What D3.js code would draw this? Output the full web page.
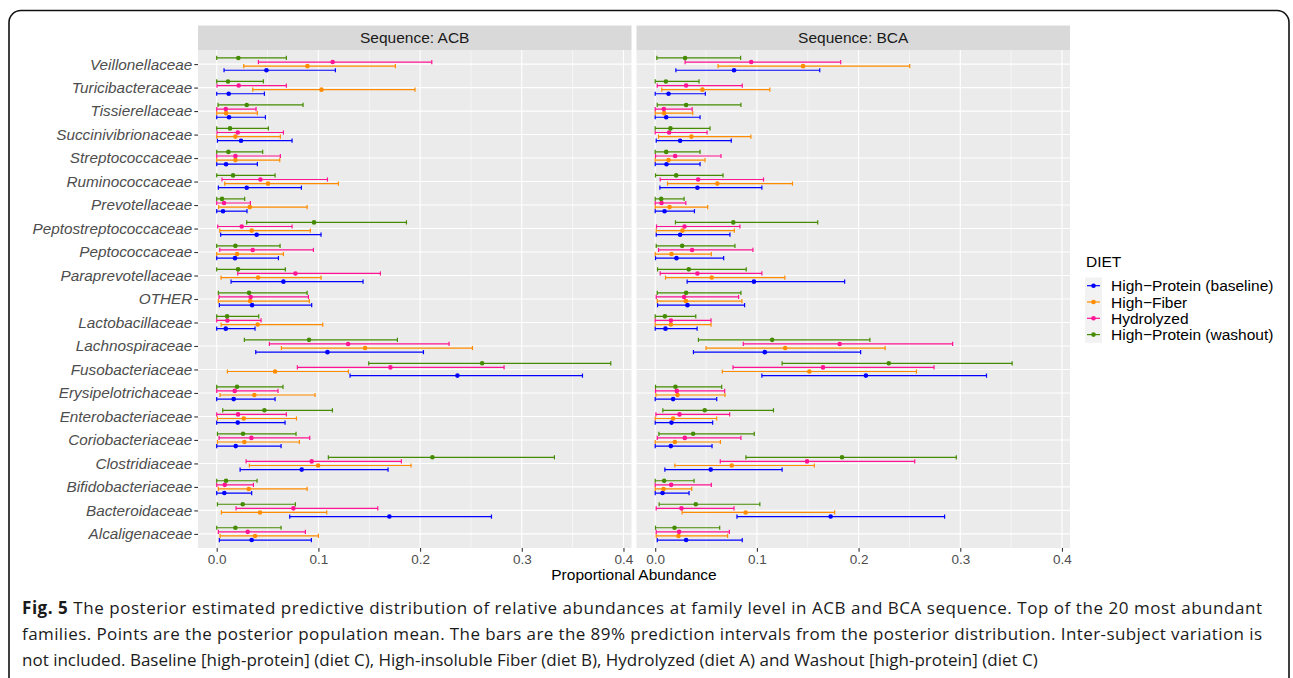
<!DOCTYPE html>
<html><head><meta charset="utf-8">
<script src="https://cdn.jsdelivr.net/npm/d3@7"></script>
<style>body{margin:0;background:#fff;} svg{display:block}</style>
</head><body><svg id="c" width="1293" height="678"></svg>
<script>
const categories = ["Veillonellaceae","Turicibacteraceae","Tissierellaceae","Succinivibrionaceae","Streptococcaceae","Ruminococcaceae","Prevotellaceae","Peptostreptococcaceae","Peptococcaceae","Paraprevotellaceae","OTHER","Lactobacillaceae","Lachnospiraceae","Fusobacteriaceae","Erysipelotrichaceae","Enterobacteriaceae","Coriobacteriaceae","Clostridiaceae","Bifidobacteriaceae","Bacteroidaceae","Alcaligenaceae"];
const seriesKeys = ["baseline","fiber","hydrolyzed","washout"];
const seriesLabels = ["High\u2212Protein (baseline)","High\u2212Fiber","Hydrolyzed","High\u2212Protein (washout)"];
const seriesColors = ["#0000FF","#FF8C00","#FF1493","#458B00"];
const panelTitles = ["Sequence: ACB","Sequence: BCA"];
const xTicks = [0,0.1,0.2,0.3,0.4];
const xTickLabels = ["0.0","0.1","0.2","0.3","0.4"];

// [lower, mean, upper] for each category, top to bottom
const acbBaseline = [[0.0072,0.0489,0.1167],[0,0.0118,0.0469],[0,0.0121,0.0479],[0.0007,0.0239,0.0741],[0,0.0092,0.0400],[0.0016,0.0295,0.0833],[0,0.0062,0.0298],[0.0039,0.0393,0.1026],[0,0.0180,0.0607],[0.0141,0.0656,0.1439],[0.0026,0.0348,0.0934],[0,0.0089,0.0377],[0.0384,0.1089,0.2033],[0.1311,0.2367,0.3597],[0,0.0167,0.0574],[0,0.0207,0.0672],[0,0.0187,0.0633],[0.0230,0.0836,0.1685],[0,0.0075,0.0344],[0.0718,0.1698,0.2702],[0.0026,0.0344,0.0931]];
const acbFiber = [[0.0266,0.0892,0.1757],[0.0354,0.1030,0.1950],[0,0.0092,0.0400],[0,0.0184,0.0626],[0,0.0184,0.0620],[0.0079,0.0505,0.1197],[0.0020,0.0325,0.0889],[0.0030,0.0344,0.0921],[0,0.0200,0.0656],[0.0043,0.0407,0.1026],[0.0016,0.0328,0.0911],[0.0043,0.0403,0.1043],[0.0636,0.1459,0.2515],[0.0105,0.0574,0.1295],[0.0033,0.0370,0.0967],[0.0007,0.0266,0.0784],[0.0007,0.0272,0.0813],[0.0321,0.0997,0.1911],[0.0016,0.0315,0.0889],[0.0046,0.0426,0.1082],[0.0033,0.0377,0.1000]];
const acbHydrolyzed = [[0.0410,0.1140,0.2115],[0.0003,0.0216,0.0685],[0,0.0089,0.0387],[0.0003,0.0207,0.0656],[0,0.0184,0.0626],[0.0052,0.0430,0.1089],[0,0.0072,0.0331],[0.0010,0.0246,0.0741],[0.0030,0.0354,0.0951],[0.0207,0.0774,0.1610],[0.0023,0.0334,0.0902],[0,0.0105,0.0436],[0.0518,0.1292,0.2285],[0.0793,0.1708,0.2826],[0,0.0177,0.0603],[0,0.0210,0.0685],[0.0023,0.0341,0.0915],[0.0289,0.0934,0.1816],[0,0.0079,0.0361],[0.0190,0.0754,0.1584],[0.0016,0.0305,0.0872]];
const acbWashout = [[0,0.0213,0.0685],[0,0.0111,0.0459],[0.0013,0.0295,0.0849],[0,0.0131,0.0508],[0,0.0115,0.0452],[0,0.0161,0.0574],[0,0.0052,0.0275],[0.0295,0.0957,0.1866],[0,0.0184,0.0623],[0,0.0210,0.0675],[0.0016,0.0318,0.0889],[0,0.0102,0.0413],[0.0272,0.0908,0.1777],[0.1495,0.2610,0.3875],[0,0.0200,0.0652],[0.0059,0.0469,0.1138],[0.0007,0.0259,0.0780],[0.1098,0.2121,0.3321],[0,0.0092,0.0397],[0.0007,0.0256,0.0774],[0,0.0184,0.0633]];
const bcaBaseline = [[0.0203,0.0775,0.1618],[0,0.0131,0.0493],[0,0.0108,0.0441],[0.0010,0.0245,0.0748],[0,0.0111,0.0441],[0.0046,0.0415,0.1049],[0,0.0092,0.0386],[0.0010,0.0245,0.0735],[0.0003,0.0209,0.0673],[0.0314,0.0971,0.1863],[0.0023,0.0317,0.0879],[0,0.0101,0.0412],[0.0376,0.1078,0.2020],[0.1049,0.2072,0.3258],[0,0.0176,0.0605],[0,0.0160,0.0565],[0,0.0154,0.0559],[0.0095,0.0546,0.1248],[0,0.0072,0.0333],[0.0804,0.1725,0.2846],[0.0020,0.0304,0.0856]];
const bcaFiber = [[0.0618,0.1454,0.2503],[0.0065,0.0464,0.1127],[0,0.0088,0.0369],[0.0033,0.0356,0.0941],[0,0.0131,0.0490],[0.0121,0.0611,0.1350],[0,0.0141,0.0516],[0.0010,0.0268,0.0778],[0,0.0160,0.0552],[0.0101,0.0556,0.1275],[0.0020,0.0301,0.0853],[0,0.0154,0.0549],[0.0500,0.1278,0.2261],[0.0660,0.1516,0.2569],[0.0007,0.0219,0.0686],[0,0.0176,0.0605],[0,0.0193,0.0641],[0.0193,0.0752,0.1565],[0,0.0082,0.0359],[0.0265,0.0889,0.1765],[0.0010,0.0229,0.0712]];
const bcaHydrolyzed = [[0.0294,0.0944,0.1824],[0.0020,0.0304,0.0856],[0,0.0085,0.0363],[0,0.0137,0.0510],[0.0003,0.0196,0.0647],[0.0049,0.0422,0.1065],[0,0.0062,0.0301],[0.0013,0.0288,0.0833],[0.0033,0.0363,0.0961],[0.0049,0.0415,0.1049],[0.0010,0.0284,0.0820],[0,0.0154,0.0549],[0.0866,0.1814,0.2925],[0.0765,0.1650,0.2742],[0.0003,0.0212,0.0683],[0.0007,0.0239,0.0732],[0.0020,0.0291,0.0843],[0.0640,0.1493,0.2552],[0,0.0157,0.0552],[0.0010,0.0258,0.0775],[0.0010,0.0235,0.0729]];
const bcaWashout = [[0.0016,0.0294,0.0840],[0,0.0105,0.0431],[0.0020,0.0304,0.0843],[0,0.0150,0.0539],[0,0.0108,0.0441],[0.0003,0.0206,0.0667],[0,0.0059,0.0284],[0.0199,0.0768,0.1598],[0.0010,0.0265,0.0784],[0.0023,0.0330,0.0895],[0.0020,0.0304,0.0843],[0,0.0095,0.0399],[0.0425,0.1150,0.2111],[0.1248,0.2297,0.3510],[0.0003,0.0199,0.0654],[0.0075,0.0487,0.1163],[0.0036,0.0373,0.0974],[0.0892,0.1837,0.2961],[0,0.0088,0.0382],[0.0039,0.0399,0.1029],[0.0003,0.0190,0.0634]];

const captionLines = [
  "The posterior estimated predictive distribution of relative abundances at family level in ACB and BCA sequence. Top of the 20 most abundant",
  "families. Points are the posterior population mean. The bars are the 89% prediction intervals from the posterior distribution. Inter-subject variation is",
  "not included. Baseline [high-protein] (diet C), High-insoluble Fiber (diet B), Hydrolyzed (diet A) and Washout [high-protein] (diet C)"
];

const panelData = [
  [acbBaseline, acbFiber, acbHydrolyzed, acbWashout],
  [bcaBaseline, bcaFiber, bcaHydrolyzed, bcaWashout]
];

const svg = d3.select("#c");
const FONT = "'Liberation Sans', Arial, Helvetica, sans-serif";

// outer frame
svg.append("rect").attr("x",9).attr("y",10.5).attr("width",1280).attr("height",720)
  .attr("rx",12).attr("fill","none").attr("stroke","#111").attr("stroke-width",1.6);

const panelTop = 50, panelBottom = 548, panelW = 433.5;
const panelLefts = [198, 636.5];
const stripTop = 25.5;

const y = d3.scalePoint().domain(categories).range([panelTop, panelBottom]).padding(0.6);
const dodge = d3.scalePoint().domain(["washout","hydrolyzed","fiber","baseline"]).range([-6.15, 6.15]);
const x = d3.scaleLinear().domain([-0.0184, 0.4079]).range([0, panelW]);
const minorTicks = [0.05,0.15,0.25,0.35];

panelLefts.forEach((left, pi) => {
  const g = svg.append("g").attr("transform", `translate(${left},0)`);
  g.append("rect").attr("x",0).attr("y",stripTop).attr("width",panelW).attr("height",panelTop-stripTop).attr("fill","#D9D9D9");
  g.append("text").attr("x",panelW/2).attr("y",(stripTop+panelTop)/2).attr("dy","0.36em")
    .attr("text-anchor","middle").attr("font-family",FONT).attr("font-size",15.5).attr("fill","#1A1A1A").text(panelTitles[pi]);
  g.append("rect").attr("x",0).attr("y",panelTop).attr("width",panelW).attr("height",panelBottom-panelTop).attr("fill","#EBEBEB");
  g.selectAll(".mg").data(minorTicks).enter().append("line")
    .attr("x1",d=>x(d)).attr("x2",d=>x(d)).attr("y1",panelTop).attr("y2",panelBottom)
    .attr("stroke","#fff").attr("stroke-width",0.55);
  g.selectAll(".Mg").data(xTicks).enter().append("line")
    .attr("x1",d=>x(d)).attr("x2",d=>x(d)).attr("y1",panelTop).attr("y2",panelBottom)
    .attr("stroke","#fff").attr("stroke-width",1.1);
  g.selectAll(".hg").data(categories).enter().append("line")
    .attr("x1",0).attr("x2",panelW).attr("y1",d=>y(d)).attr("y2",d=>y(d))
    .attr("stroke","#fff").attr("stroke-width",1.1);

  const xa = g.append("g").attr("transform",`translate(0,${panelBottom})`)
    .call(d3.axisBottom(x).tickValues(xTicks).tickFormat((d,i)=>xTickLabels[i]).tickSize(3.7).tickPadding(3));
  xa.select(".domain").remove();
  xa.selectAll("line").attr("stroke","#333").attr("stroke-width",1.1);
  xa.selectAll("text").attr("font-family",FONT).attr("font-size",13.5).attr("fill","#4D4D4D");

  const sets = panelData[pi];
  seriesKeys.forEach((key, si) => {
    const color = seriesColors[si];
    const arr = sets[si];
    const sg = g.append("g");
    arr.forEach((v, ci) => {
      const yy = y(categories[ci]) + dodge(key);
      sg.append("line").attr("x1",x(v[0])).attr("x2",x(v[2])).attr("y1",yy).attr("y2",yy)
        .attr("stroke",color).attr("stroke-width",1.2);
      [v[0], v[2]].forEach(e => {
        sg.append("line").attr("x1",x(e)).attr("x2",x(e)).attr("y1",yy-2.1).attr("y2",yy+2.1)
          .attr("stroke",color).attr("stroke-width",1.2);
      });
      sg.append("circle").attr("cx",x(v[1])).attr("cy",yy).attr("r",2.3).attr("fill",color);
    });
  });
});

const ya = svg.append("g").attr("transform",`translate(${panelLefts[0]},0)`)
  .call(d3.axisLeft(y).tickSize(3.7).tickPadding(2));
ya.select(".domain").remove();
ya.selectAll("line").attr("stroke","#333").attr("stroke-width",1.1);
ya.selectAll("text").attr("font-family",FONT).attr("font-size",15.3).attr("font-style","italic").attr("fill","#4D4D4D");

svg.append("text").attr("x",(panelLefts[0]+panelLefts[1]+panelW)/2).attr("y",580)
  .attr("text-anchor","middle").attr("font-family",FONT).attr("font-size",15.5).attr("fill","#000").text("Proportional Abundance");

const lg = svg.append("g").attr("transform","translate(1085,0)");
lg.append("text").attr("x",1).attr("y",267).attr("font-family",FONT).attr("font-size",15.5).attr("fill","#000").text("DIET");
seriesKeys.forEach((k, i) => {
  const cy = 285.7 + i*16.3;
  lg.append("rect").attr("x",0).attr("y",cy-8.2).attr("width",17).attr("height",16.4).attr("fill","#F2F2F2");
  lg.append("line").attr("x1",2).attr("x2",15).attr("y1",cy).attr("y2",cy).attr("stroke",seriesColors[i]).attr("stroke-width",1.2);
  lg.append("circle").attr("cx",8.5).attr("cy",cy).attr("r",2.3).attr("fill",seriesColors[i]);
  lg.append("text").attr("x",26).attr("y",cy).attr("dy","0.36em").attr("font-family",FONT).attr("font-size",15.5).attr("fill","#000").text(seriesLabels[i]);
});

// caption
const CF = "'Open Sans','Noto Sans',sans-serif";
const cap = svg.append("g").attr("font-family",CF).attr("font-size",17).attr("fill","#1a1a1a");
const l1 = cap.append("text").attr("x",22).attr("y",614).attr("textLength",1240).attr("lengthAdjust","spacing");
l1.append("tspan").attr("font-weight","bold").text("Fig. 5");
l1.append("tspan").text(" " + captionLines[0]);
cap.append("text").attr("x",22).attr("y",640).attr("textLength",1240).attr("lengthAdjust","spacing").text(captionLines[1]);
cap.append("text").attr("x",22).attr("y",666).text(captionLines[2]);
</script></body></html>
